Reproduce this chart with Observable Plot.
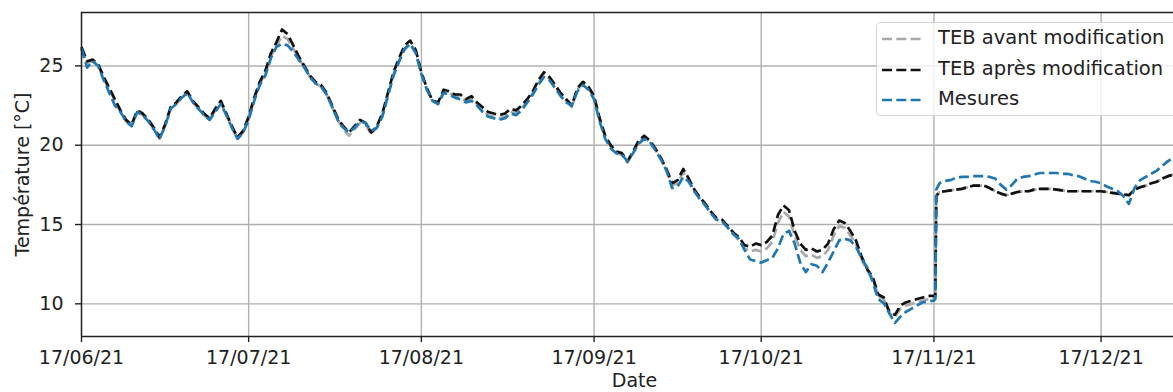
<!DOCTYPE html>
<html><head><meta charset="utf-8">
<script src="https://cdn.jsdelivr.net/npm/d3@7"></script>
<script src="https://cdn.jsdelivr.net/npm/@observablehq/plot@0.6"></script>
<style>
html,body{margin:0;padding:0;background:#fff;}
#wrap{position:relative;width:1173px;height:392px;overflow:hidden;font-family:"DejaVu Sans",sans-serif;}
#legend{position:absolute;left:876px;top:22px;width:320px;height:94px;box-sizing:border-box;border:1.4px solid rgba(204,204,204,0.8);border-radius:5px;background:rgba(255,255,255,0.8);font-size:19.5px;color:#222;}
.row{position:absolute;left:4px;height:24px;line-height:24px;white-space:nowrap;}
.row svg{position:absolute;left:0;top:0;}
.row span{position:absolute;left:57px;top:-1px;}
</style></head>
<body><div id="wrap"></div>
<script>
const dates = [
"2021-06-17","2021-06-18","2021-06-19","2021-06-20","2021-06-21","2021-06-22","2021-06-23","2021-06-24","2021-06-25","2021-06-26","2021-06-27","2021-06-28","2021-06-29","2021-06-30",
"2021-07-01","2021-07-02","2021-07-03","2021-07-04","2021-07-05","2021-07-06","2021-07-07","2021-07-08","2021-07-09","2021-07-10","2021-07-11","2021-07-12","2021-07-13","2021-07-14","2021-07-15","2021-07-16","2021-07-17","2021-07-18","2021-07-19","2021-07-20","2021-07-21","2021-07-22","2021-07-23","2021-07-24","2021-07-25","2021-07-26","2021-07-27","2021-07-28","2021-07-29","2021-07-30","2021-07-31",
"2021-08-01","2021-08-02","2021-08-03","2021-08-04","2021-08-05","2021-08-06","2021-08-07","2021-08-08","2021-08-09","2021-08-10","2021-08-11","2021-08-12","2021-08-13","2021-08-14","2021-08-15","2021-08-16","2021-08-17","2021-08-18","2021-08-19","2021-08-20","2021-08-21","2021-08-22","2021-08-23","2021-08-24","2021-08-25","2021-08-26","2021-08-27","2021-08-28","2021-08-29","2021-08-30","2021-08-31",
"2021-09-01","2021-09-02","2021-09-03","2021-09-04","2021-09-05","2021-09-06","2021-09-07","2021-09-08","2021-09-09","2021-09-10","2021-09-11","2021-09-12","2021-09-13","2021-09-14","2021-09-15","2021-09-16","2021-09-17","2021-09-18","2021-09-19","2021-09-20","2021-09-21","2021-09-22","2021-09-23","2021-09-24","2021-09-25","2021-09-26","2021-09-27","2021-09-28","2021-09-29","2021-09-30",
"2021-10-01","2021-10-02","2021-10-03","2021-10-04","2021-10-05","2021-10-06","2021-10-07","2021-10-08","2021-10-09","2021-10-10","2021-10-11","2021-10-12","2021-10-13","2021-10-14","2021-10-15","2021-10-16","2021-10-17","2021-10-18","2021-10-19","2021-10-20","2021-10-21","2021-10-22","2021-10-23","2021-10-24","2021-10-25","2021-10-26","2021-10-27","2021-10-28","2021-10-29","2021-10-30","2021-10-31",
"2021-11-01","2021-11-02","2021-11-03","2021-11-04","2021-11-05","2021-11-06","2021-11-07","2021-11-08","2021-11-09","2021-11-10","2021-11-11","2021-11-12","2021-11-13","2021-11-14","2021-11-15","2021-11-16","2021-11-17",
"2021-11-17T06:00Z","2021-11-17T10:00Z",
"2021-11-18","2021-11-19","2021-11-20","2021-11-21","2021-11-22","2021-11-23","2021-11-24","2021-11-25","2021-11-26","2021-11-27","2021-11-28","2021-11-29","2021-11-30",
"2021-12-01","2021-12-02","2021-12-03","2021-12-04","2021-12-05","2021-12-06","2021-12-07","2021-12-08","2021-12-09","2021-12-10","2021-12-11","2021-12-12","2021-12-13","2021-12-14","2021-12-15","2021-12-16","2021-12-17","2021-12-18","2021-12-19","2021-12-20","2021-12-21","2021-12-22","2021-12-23","2021-12-24","2021-12-25","2021-12-26","2021-12-27","2021-12-28","2021-12-29","2021-12-30"
];

const tebAvant = [
26.1,25.2,25.3,25.0,24.2,23.5,22.8,22.1,21.5,21.2,22.1,21.9,21.5,21.0,
20.4,21.2,22.3,22.6,23.0,23.3,22.7,22.3,21.9,21.6,22.2,22.7,21.9,21.1,20.4,20.8,21.7,22.9,23.9,24.5,25.6,26.3,26.9,26.7,26.1,25.5,24.9,24.3,23.9,23.7,23.2,
22.4,21.6,21.0,20.6,21.0,21.4,21.3,20.7,21.1,21.9,23.2,24.4,25.3,26.0,26.4,25.9,24.5,23.5,22.8,22.6,23.4,23.3,23.1,23.0,22.8,22.9,22.6,22.2,21.9,21.8,21.7,
21.8,22.1,22.0,22.3,22.8,23.3,23.9,24.4,24.2,23.7,23.2,22.8,22.4,23.5,23.9,23.6,23.0,21.6,20.5,19.9,19.5,19.4,18.9,19.5,20.2,20.5,20.2,19.7,19.1,18.4,
17.5,17.6,18.3,17.8,17.1,16.6,16.2,15.7,15.3,15.2,14.8,14.4,14.0,13.5,13.3,13.4,13.3,13.5,13.9,15.1,15.8,15.5,14.3,13.4,13.0,13.1,12.9,13.0,13.4,14.3,14.9,
14.8,14.3,13.8,12.8,12.1,11.6,10.5,10.3,9.4,9.2,9.7,9.9,10.0,10.1,10.2,10.3,10.35,
10.4,16.8,
17.05,17.1,17.15,17.2,17.25,17.35,17.45,17.45,17.45,17.3,17.1,16.95,16.85,
16.95,17.05,17.1,17.1,17.2,17.25,17.25,17.25,17.2,17.15,17.1,17.1,17.1,17.1,17.1,17.1,17.1,17.05,17.0,16.95,16.9,16.85,17.2,17.35,17.45,17.6,17.7,17.9,18.05,18.15
];

const tebApres = [
26.2,25.3,25.4,25.1,24.3,23.6,22.9,22.2,21.6,21.3,22.2,22.0,21.6,21.1,
20.5,21.3,22.4,22.7,23.1,23.4,22.8,22.4,22.0,21.7,22.3,22.8,22.0,21.2,20.5,20.9,21.8,23.0,24.0,24.7,25.8,26.5,27.3,27.0,26.3,25.6,25.0,24.4,24.0,23.8,23.3,
22.5,21.7,21.2,20.8,21.2,21.6,21.4,20.8,21.2,22.0,23.3,24.6,25.5,26.3,26.6,26.0,24.6,23.6,22.8,22.7,23.5,23.4,23.2,23.2,22.9,23.1,22.7,22.4,22.1,22.0,21.9,
22.0,22.3,22.2,22.5,22.9,23.4,24.1,24.6,24.3,23.8,23.3,22.9,22.5,23.6,24.0,23.7,23.1,21.7,20.6,20.0,19.6,19.5,19.0,19.6,20.3,20.6,20.3,19.8,19.2,18.5,
17.6,17.8,18.5,17.9,17.2,16.7,16.3,15.8,15.4,15.3,14.9,14.5,14.2,13.7,13.6,13.8,13.7,13.9,14.3,15.6,16.2,15.9,14.6,13.8,13.4,13.5,13.3,13.4,13.8,14.7,15.25,
15.1,14.6,14.0,13.0,12.2,11.7,10.6,10.4,9.5,9.3,9.9,10.1,10.2,10.3,10.4,10.5,10.5,
10.5,16.8,
17.05,17.1,17.15,17.2,17.25,17.35,17.45,17.45,17.45,17.3,17.1,16.95,16.85,
16.95,17.05,17.1,17.1,17.2,17.25,17.25,17.25,17.2,17.15,17.1,17.1,17.1,17.1,17.1,17.1,17.1,17.05,17.0,16.95,16.9,16.85,17.2,17.35,17.45,17.6,17.7,17.9,18.05,18.15
];

const mesures = [
26.1,24.9,25.3,25.0,24.1,23.3,22.5,22.1,21.5,21.2,22.1,21.9,21.5,21.0,
20.4,21.2,22.3,22.6,23.0,23.3,22.7,22.3,21.9,21.6,22.1,22.6,21.9,21.1,20.4,20.8,21.6,22.8,23.8,24.4,25.5,26.2,26.4,26.3,25.9,25.4,24.9,24.3,23.9,23.7,23.2,
22.4,21.6,21.1,20.8,21.1,21.5,21.4,20.9,21.1,21.8,23.1,24.4,25.3,26.1,26.4,25.8,24.5,23.5,22.8,22.6,23.3,23.2,23.0,22.9,22.7,22.8,22.5,22.1,21.8,21.7,21.6,
21.7,22.0,21.9,22.2,22.7,23.2,23.8,24.3,24.1,23.6,23.1,22.7,22.5,23.4,23.8,23.5,22.9,21.5,20.4,19.8,19.5,19.4,19.0,19.5,20.1,20.4,20.2,19.7,19.1,18.4,
17.3,17.4,18.0,17.7,17.1,16.6,16.2,15.7,15.3,15.2,14.8,14.4,14.1,13.4,12.8,12.7,12.6,12.75,12.9,13.5,14.4,14.6,13.8,12.6,12.0,12.5,12.4,12.0,12.6,13.3,14.0,
14.1,14.0,13.6,12.9,12.3,11.4,10.3,10.05,9.4,8.8,9.2,9.5,9.7,9.9,10.1,10.15,10.2,
10.3,17.2,
17.6,17.75,17.8,17.95,18.0,18.0,18.05,18.05,18.05,18.0,17.9,17.5,17.2,
17.5,17.9,18.0,18.05,18.15,18.25,18.25,18.25,18.25,18.2,18.2,18.1,18.05,17.9,17.75,17.7,17.6,17.4,17.25,17.1,16.8,16.3,17.3,17.8,18.0,18.2,18.4,18.7,19.0,19.2
];

const tickDates = ["2021-06-17","2021-07-17","2021-08-17","2021-09-17","2021-10-17","2021-11-17","2021-12-17"];
const yTicks = [10, 15, 20, 25];
const xStart = "2021-06-17", xEnd = "2021-12-30";
const yMin = 7.94, yMax = 28.37;
const seriesNames = ["TEB avant modification", "TEB après modification", "Mesures"];
const seriesColors = ["#a9a9a9", "#111111", "#1f77b4"];
const yLabel = "Température [°C]", xLabel = "Date";

const data = dates.map((d, i) => ({date: new Date(d), avant: tebAvant[i], apres: tebApres[i], mesures: mesures[i]}));
const ticks = tickDates.map(d => new Date(d));
const dash = "10,4.3";
const lineStyle = {strokeWidth: 2.7, strokeDasharray: dash, strokeLinecap: "butt", strokeLinejoin: "round"};
const gridStyle = {stroke: "#b0b0b0", strokeOpacity: 1, strokeWidth: 1.4};
const spine = {stroke: "#222", strokeWidth: 1.4};
const fs = 19;

const chart = Plot.plot({
  width: 1173, height: 392,
  marginLeft: 81, marginRight: 0, marginTop: 12, marginBottom: 56,
  style: {fontFamily: "DejaVu Sans", fontSize: fs + "px", color: "#222", background: "white", overflow: "visible"},
  x: {type: "utc", domain: [new Date(xStart), new Date(xEnd)]},
  y: {domain: [yMin, yMax]},
  marks: [
    Plot.gridX(ticks, gridStyle),
    Plot.gridY(yTicks, gridStyle),
    Plot.line(data, {x: "date", y: "avant", stroke: seriesColors[0], ...lineStyle}),
    Plot.line(data, {x: "date", y: "apres", stroke: seriesColors[1], ...lineStyle}),
    Plot.line(data, {x: "date", y: "mesures", stroke: seriesColors[2], ...lineStyle}),
    Plot.ruleY([yMin], spine),
    Plot.ruleY([yMax], spine),
    Plot.ruleX([new Date(xStart)], spine),
    Plot.axisX(ticks, {tickFormat: d3.utcFormat("%d/%m/%y"), tickSize: 6, tickPadding: 8, label: null, fontSize: fs, strokeWidth: 1.4}),
    Plot.axisY(yTicks, {tickSize: 6, tickPadding: 12, label: null, fontSize: fs, strokeWidth: 1.4}),
    Plot.text([yLabel], {frameAnchor: "left", textAnchor: "middle", rotate: -90, dx: -59, fontSize: fs, fill: "#222"}),
    Plot.text([xLabel], {frameAnchor: "bottom", textAnchor: "middle", lineAnchor: "top", dy: 37, dx: 7, fontSize: fs, fill: "#222"})
  ]
});

const wrap = document.getElementById("wrap");
wrap.appendChild(chart);

const legend = document.createElement("div");
legend.id = "legend";
const rowTops = [4, 35, 65];
seriesNames.forEach((name, i) => {
  const row = document.createElement("div");
  row.className = "row";
  row.style.top = rowTops[i] + "px";
  row.innerHTML = `<svg width="42" height="24"><line x1="1" y1="12" x2="41" y2="12" stroke="${seriesColors[i]}" stroke-width="2.7" stroke-dasharray="${dash}"/></svg><span>${name}</span>`;
  legend.appendChild(row);
});
wrap.appendChild(legend);
</script>
</body></html>
